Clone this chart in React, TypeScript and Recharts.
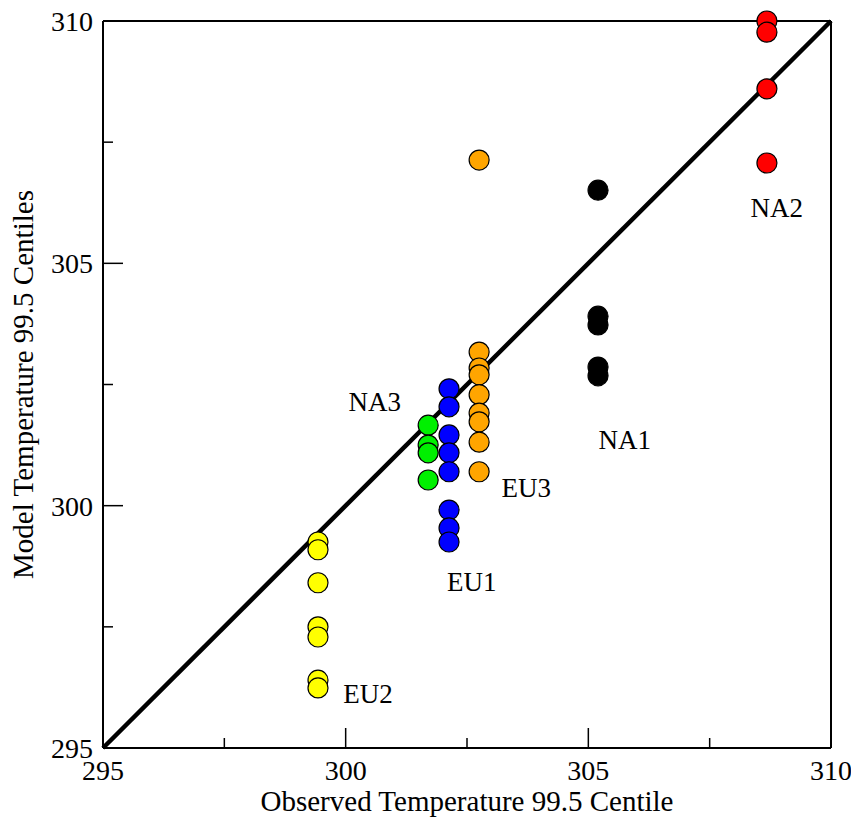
import React from 'react';
import { ScatterChart, Scatter, XAxis, YAxis, ReferenceLine, Label } from 'recharts';

// observed value of each region (x) and its model centiles (y)
const regions = ['EU2', 'NA3', 'EU1', 'EU3', 'NA1', 'NA2'];
const observed = [299.43, 301.7, 302.13, 302.75, 305.2, 308.68];
const eu2Model = [299.25, 299.09, 298.41, 297.5, 297.29, 296.4, 296.24];
const na3Model = [301.66, 301.25, 301.09, 300.53];
const eu1Model = [302.41, 302.04, 301.46, 301.09, 300.7, 299.91, 299.54, 299.25];
const eu3Model = [307.13, 303.17, 302.84, 302.7, 302.29, 301.91, 301.73, 301.31, 300.7];
const na1Model = [306.51, 303.91, 303.73, 302.86, 302.68];
const na2Model = [310.0, 309.77, 308.6, 307.07];
const modelValues = [eu2Model, na3Model, eu1Model, eu3Model, na1Model, na2Model];
const colors = ['#ffff00', '#00f000', '#0000ff', '#ffa500', '#000000', '#ff0000'];

// where the region names sit (data coords)
const labelX = [300.46, 300.6, 302.6, 303.72, 305.75, 308.88];
const labelY = [296.11, 302.14, 298.43, 300.37, 301.36, 306.14];

const ticks = [295, 297.5, 300, 302.5, 305, 307.5, 310];
const domain: [number, number] = [295, 310];

const FONT = '"Liberation Serif", "Times New Roman", serif';

const seriesData = regions.map((r, i) =>
  modelValues[i].map((m) => ({ obs: observed[i], model: m }))
);
const labelData = regions.map((r, i) => ({ obs: labelX[i], model: labelY[i], name: r }));

const isMajor = (v: number) => v % 5 === 0;

const BottomTick = (props: any) => {
  const { x, y, payload } = props;
  const len = isMajor(payload.value) ? 20 : 10;
  return (
    <g>
      <line x1={x} y1={y} x2={x} y2={y - len} stroke="#000" strokeWidth={1.5} />
      {isMajor(payload.value) && (
        <text x={x} y={y + 32} textAnchor="middle" fontFamily={FONT} fontSize={28} fill="#000">
          {payload.value}
        </text>
      )}
    </g>
  );
};

const TopTick = (props: any) => {
  const { x, y, payload } = props;
  const len = isMajor(payload.value) ? 20 : 10;
  return <line x1={x} y1={y} x2={x} y2={y + len} stroke="#000" strokeWidth={1.5} />;
};

const LeftTick = (props: any) => {
  const { x, y, payload } = props;
  const len = isMajor(payload.value) ? 20 : 10;
  return (
    <g>
      <line x1={x} y1={y} x2={x + len} y2={y} stroke="#000" strokeWidth={1.5} />
      {isMajor(payload.value) && (
        <text x={x - 10} y={y + 10} textAnchor="end" fontFamily={FONT} fontSize={28} fill="#000">
          {payload.value}
        </text>
      )}
    </g>
  );
};

const RightTick = (props: any) => {
  const { x, y, payload } = props;
  const len = isMajor(payload.value) ? 20 : 10;
  return <line x1={x} y1={y} x2={x - len} y2={y} stroke="#000" strokeWidth={1.5} />;
};

const Dot = (color: string) => (p: any) => (
  <circle cx={p.cx} cy={p.cy} r={10} fill={color} stroke="#000" strokeWidth={1.2} />
);

const RegionName = (p: any) => (
  <text
    x={p.cx}
    y={p.cy}
    textAnchor="middle"
    dominantBaseline="central"
    fontFamily={FONT}
    fontSize={27}
    fill="#000"
  >
    {p.payload.name}
  </text>
);

export default function App() {
  return (
    <div style={{ width: 851, height: 815, background: '#fff' }}>
      <ScatterChart
        width={851}
        height={815}
        margin={{ top: 0, right: 0, bottom: 0, left: 0 }}
        style={{ overflow: 'visible' }}
      >
        <XAxis
          xAxisId="b"
          dataKey="obs"
          type="number"
          domain={domain}
          ticks={ticks}
          interval={0}
          height={75}
          tickSize={0}
          tickMargin={0}
          tickLine={false}
          tick={<BottomTick />}
          axisLine={{ stroke: '#000', strokeWidth: 2 }}
        >
          <Label
            value="Observed Temperature 99.5 Centile"
            position="insideBottom"
            offset={12}
            style={{ fontFamily: FONT, fontSize: 29, fill: '#000' }}
          />
        </XAxis>
        <XAxis
          xAxisId="t"
          orientation="top"
          dataKey="obs"
          type="number"
          domain={domain}
          ticks={ticks}
          interval={0}
          height={13}
          tickSize={0}
          tickMargin={0}
          tickLine={false}
          tick={<TopTick />}
          axisLine={{ stroke: '#000', strokeWidth: 2 }}
        />
        <YAxis
          yAxisId="l"
          dataKey="model"
          type="number"
          domain={domain}
          ticks={ticks}
          interval={0}
          width={95}
          tickSize={0}
          tickMargin={0}
          tickLine={false}
          tick={<LeftTick />}
          axisLine={{ stroke: '#000', strokeWidth: 2 }}
        >
          <Label
            value="Model Temperature 99.5 Centiles"
            angle={-90}
            position="insideLeft"
            offset={15}
            style={{ fontFamily: FONT, fontSize: 29, fill: '#000', textAnchor: 'middle' }}
          />
        </YAxis>
        <YAxis
          yAxisId="r"
          orientation="right"
          dataKey="model"
          type="number"
          domain={domain}
          ticks={ticks}
          interval={0}
          width={28}
          tickSize={0}
          tickMargin={0}
          tickLine={false}
          tick={<RightTick />}
          axisLine={{ stroke: '#000', strokeWidth: 2 }}
        />
        {seriesData.map((d, i) => (
          <Scatter
            key={regions[i]}
            xAxisId="b"
            yAxisId="l"
            data={d}
            shape={Dot(colors[i])}
            isAnimationActive={false}
          />
        ))}
        <Scatter
          xAxisId="b"
          yAxisId="l"
          data={labelData}
          shape={RegionName}
          isAnimationActive={false}
        />
        <ReferenceLine
          xAxisId="b"
          yAxisId="l"
          segment={[
            { x: domain[0], y: domain[0] },
            { x: domain[1], y: domain[1] },
          ]}
          stroke="#000"
          strokeWidth={4.5}
          ifOverflow="visible"
        />
      </ScatterChart>
    </div>
  );
}
